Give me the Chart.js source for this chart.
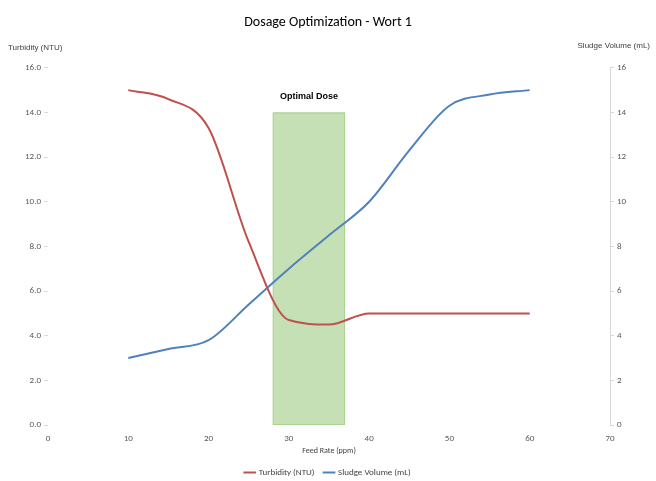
<!DOCTYPE html>
<html>
<head>
<meta charset="utf-8">
<script src="https://cdn.jsdelivr.net/npm/chart.js@4"></script>
<style>
  html, body { margin: 0; padding: 0; background: #fff; }
  #wrap { width: 656px; height: 481px; }
</style>
</head>
<body>
<div id="wrap"><canvas id="doseChart"></canvas></div>
<script>
const doseRates = [10, 15, 20, 25, 30, 35, 40, 45, 50, 55, 60];
const turbidity = [15.0, 14.6, 13.3, 8.2, 4.7, 4.5, 5.0, 5.0, 5.0, 5.0, 5.0];
const sludgeVolume = [3.0, 3.4, 3.8, 5.4, 7.0, 8.5, 10.0, 12.3, 14.3, 14.8, 15.0];
const optimalRange = [28, 37];
const optimalTop = 14;

Chart.defaults.font.family = 'Calibri, Carlito, "Liberation Sans", Arial, sans-serif';
Chart.defaults.color = '#595959';

const optimalZone = {
  id: 'optimalZone',
  beforeDatasetsDraw(chart) {
    const { ctx, scales } = chart;
    const x0 = scales.x.getPixelForValue(optimalRange[0]);
    const x1 = scales.x.getPixelForValue(optimalRange[1]);
    const y0 = scales.y.getPixelForValue(optimalTop);
    const y1 = scales.y.getPixelForValue(0);
    ctx.save();
    ctx.fillStyle = '#c5e0b4';
    ctx.strokeStyle = '#a9d18e';
    ctx.lineWidth = 1;
    ctx.fillRect(x0, y0, x1 - x0, y1 - y0);
    ctx.strokeRect(x0 + 0.5, y0 + 0.5, x1 - x0 - 1, y1 - y0 - 1);
    ctx.fillStyle = '#000';
    ctx.font = 'bold 9px "Liberation Sans", Arial, sans-serif';
    ctx.textAlign = 'center';
    ctx.textBaseline = 'bottom';
    ctx.fillText('Optimal Dose', (x0 + x1) / 2, y0 - 11);
    ctx.restore();
  }
};

const axisTitles = {
  id: 'axisTitles',
  afterDraw(chart) {
    const { ctx, chartArea } = chart;
    ctx.save();
    ctx.fillStyle = '#404040';
    ctx.font = '8px "Liberation Sans", Arial, sans-serif';
    ctx.textBaseline = 'middle';
    ctx.textAlign = 'left';
    ctx.fillText('Turbidity (NTU)', 8, chartArea.top - 20);
    ctx.textAlign = 'right';
    ctx.fillText('Sludge Volume (mL)', 650, chartArea.top - 22);
    ctx.restore();
  }
};

new Chart(document.getElementById('doseChart'), {
  type: 'line',
  data: {
    labels: doseRates,
    datasets: [{
      label: 'Turbidity (NTU)',
      data: doseRates.map((x, i) => ({ x, y: turbidity[i] })),
      borderColor: '#c0504d',
      backgroundColor: '#c0504d',
      borderWidth: 2,
      pointRadius: 0,
      tension: 0.4,
      cubicInterpolationMode: 'monotone',
      yAxisID: 'y'
    }, {
      label: 'Sludge Volume (mL)',
      data: doseRates.map((x, i) => ({ x, y: sludgeVolume[i] })),
      borderColor: '#4f81bd',
      backgroundColor: '#4f81bd',
      borderWidth: 2,
      pointRadius: 0,
      tension: 0.4,
      cubicInterpolationMode: 'monotone',
      yAxisID: 'y2'
    }]
  },
  options: {
    responsive: true,
    maintainAspectRatio: false,
    animation: false,
    layout: { padding: { top: 8, bottom: -6, left: 0, right: 0 } },
    plugins: {
      title: {
        display: true,
        text: 'Dosage Optimization - Wort 1',
        color: '#000',
        font: { size: 14, weight: 'normal' },
        padding: { top: 6, bottom: 37 }
      },
      legend: {
        position: 'bottom',
        labels: {
          usePointStyle: true,
          pointStyle: 'line',
          boxWidth: 24,
          padding: 10,
          color: '#404040',
          font: { size: 9 }
        }
      },
      tooltip: { enabled: false }
    },
    scales: {
      x: {
        type: 'linear',
        min: 0,
        max: 70,
        ticks: { stepSize: 10, padding: 8, font: { size: 9 } },
        grid: { display: false, drawTicks: false },
        border: { display: false },
        title: { display: true, text: 'Feed Rate (ppm)', color: '#404040', font: { size: 8 }, padding: { top: 0, bottom: 2 } },
        afterFit(scale) { scale.height = 33; }
      },
      y: {
        position: 'left',
        min: 0,
        max: 16,
        ticks: { stepSize: 2, font: { size: 9 }, callback: v => v.toFixed(1) },
        grid: { drawOnChartArea: false, tickLength: 4, color: '#d9d9d9' },
        border: { display: false },
        afterFit(scale) { scale.width = 48; }
      },
      y2: {
        position: 'right',
        min: 0,
        max: 16,
        ticks: { stepSize: 2, font: { size: 9 } },
        grid: { drawOnChartArea: false, tickLength: 4, color: '#d9d9d9' },
        border: { display: true, color: '#d9d9d9' },
        afterFit(scale) { scale.width = 46; }
      }
    }
  },
  plugins: [optimalZone, axisTitles]
});
</script>
</body>
</html>
